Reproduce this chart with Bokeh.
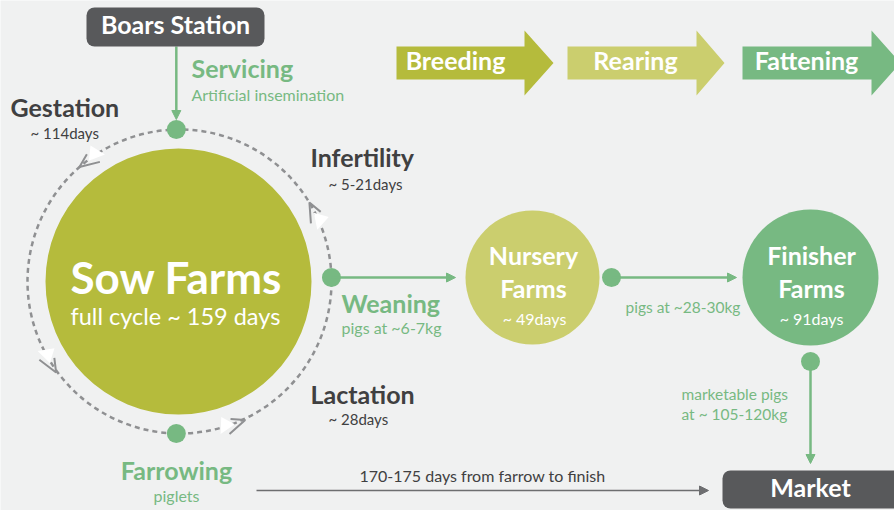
import numpy as np
from bokeh.plotting import figure
from bokeh.models import Range1d, BoxAnnotation, Arrow, NormalHead
from bokeh.core.properties import value
from bokeh.embed import file_html
from bokeh.resources import INLINE

# ---------------- content ----------------
phase_labels = ["Breeding", "Rearing", "Fattening"]
farm_titles = [["Sow Farms"], ["Nursery", "Farms"], ["Finisher", "Farms"]]
farm_durations = ["full cycle ~ 159 days", "~ 49days", "~ 91days"]
cycle_phases = ["Gestation", "Infertility", "Lactation"]
cycle_durations = ["~ 114days", "~ 5-21days", "~ 28days"]
events = ["Servicing", "Weaning", "Farrowing"]
event_notes = ["Artificial insemination", "pigs at ~6-7kg", "piglets"]
transfer_notes = ["pigs at ~28-30kg", "marketable pigs", "at ~ 105-120kg"]
endpoints = ["Boars Station", "Market"]
timeline_note = ["170-175 days from farrow to finish"]

# ---------------- layout (pixel space of the picture) ----------------
BG = "#f0f1f1"
OLIVE = "#b5bb3c"
LIGHT = "#cbce6e"
GREEN = "#77b982"
BOXC = "#58595b"
TDARK = "#404041"
RING = "#8f9092"
LINE = "#6d6e70"
FONT = "Lato"
BASE_K = 0.38  # baseline correction factor of the svg text renderer

phase_colors = [OLIVE, LIGHT, GREEN]
phase_left = [396, 567, 742]
phase_body_end = [524, 696, 871]
phase_tip = [553, 724, 900]
phase_body_top, phase_body_bot = 46, 79
phase_head_top, phase_head_bot = 30, 95
phase_text_x = [455, 635, 806]
phase_text_y = 69

farm_cx = [178, 532, 810]
farm_cy = [281, 277, 277]
farm_r = [133, 67, 68]
farm_colors = [OLIVE, LIGHT, GREEN]

ring_cx, ring_cy, ring_r = 179, 281, 152
event_angles = [91.2, 1.5, 268.8]
chevron_angles = [125.7, 211.0, 290.0, 25.9]
chevron_side = [-1, 1, 1, -1]
# chevron template in (along-tangent, across) units
CHEV_SCALE = 1.2
chev_tip = (12.0, 0.5)
chev_arm_a = (-4.3, 7.0)
chev_arm_b = (0.8, -4.5)
chev_white = [(-11.3, 4.5), (-5.9, -8.7), (2.6, 0.9)]

p = figure(width=894, height=510, output_backend="svg", toolbar_location=None,
           x_range=Range1d(0, 894), y_range=Range1d(510, 0),
           background_fill_color=BG, border_fill_color=BG, min_border=0,
           outline_line_color=None)
p.axis.visible = False
p.grid.visible = False


def label(texts, xs, ys, size, color, bold=False, align="left", level="glyph"):
    ys = [y - BASE_K * size for y in ys]
    p.text(x=xs, y=ys, text=texts, text_font=value(FONT),
           text_font_size=value(f"{size}px"),
           text_font_style="bold" if bold else "normal",
           text_color=color, text_align=align, text_baseline="alphabetic",
           level=level)


# phase arrows
pxs, pys = [], []
for L, B, T in zip(phase_left, phase_body_end, phase_tip):
    pxs.append([L, B, B, T, B, B, L])
    pys.append([phase_body_top, phase_body_top, phase_head_top,
                (phase_head_top + phase_head_bot) / 2, phase_head_bot,
                phase_body_bot, phase_body_bot])
p.patches(pxs, pys, fill_color=phase_colors, line_color=None)
label(phase_labels, phase_text_x, [phase_text_y] * 3, 25, "white", True, "center")

# cycle ring
p.circle(x=[ring_cx], y=[ring_cy], radius=ring_r, fill_color=None,
         line_color=RING, line_width=2.5, line_dash="5 4")

# farms
p.circle(x=farm_cx, y=farm_cy, radius=farm_r, fill_color=farm_colors, line_color=None)

# chevrons on ring
cxs, cys, gxs, gys = [], [], [], []
for a, side in zip(chevron_angles, chevron_side):
    th = np.radians(a)
    P = np.array([ring_cx + ring_r * np.cos(th), ring_cy - ring_r * np.sin(th)])
    t = np.array([-np.sin(th), -np.cos(th)])
    n = side * np.array([np.cos(th), -np.sin(th)])

    def pt(c):
        return P + CHEV_SCALE * (c[0] * t + c[1] * n)

    w = [pt(c) for c in chev_white]
    cxs.append([q[0] for q in w])
    cys.append([q[1] for q in w])
    tip, ea, eb = pt(chev_tip), pt(chev_arm_a), pt(chev_arm_b)
    gxs.append([ea[0], tip[0], eb[0]])
    gys.append([ea[1], tip[1], eb[1]])
p.multi_line(gxs, gys, line_color=RING, line_width=2)
p.patches(cxs, cys, fill_color="white", line_color=None)

# event dots
ev_x = [ring_cx + ring_r * np.cos(np.radians(a)) for a in event_angles]
ev_y = [ring_cy - ring_r * np.sin(np.radians(a)) for a in event_angles]
dot_x = ev_x + [611, 810]
dot_y = ev_y + [277, 361]


def arrow(x0, y0, x1, y1, color, w, size):
    p.add_layout(Arrow(end=NormalHead(size=size, fill_color=color, line_color=color),
                       x_start=x0, y_start=y0, x_end=x1, y_end=y1,
                       line_color=color, line_width=w))


arrow(ev_x[0], 46, ev_x[0], 119, GREEN, 2.5, 9)
arrow(ev_x[1], ev_y[1], 455, ev_y[1], GREEN, 2.5, 9)
arrow(611, 277, 736, 277, GREEN, 2.5, 9)
arrow(810, 361, 810, 463, GREEN, 2.5, 9)
arrow(256, 490, 708, 490, LINE, 1.5, 9)

p.circle(x=dot_x, y=dot_y, radius=9.5, fill_color=GREEN, line_color=None)

# end boxes
p.add_layout(BoxAnnotation(left=86, right=264, top=7, bottom=46, border_radius=8,
                           fill_color=BOXC, fill_alpha=1, line_color=None))
p.add_layout(BoxAnnotation(left=722, right=905, top=470, bottom=508, border_radius=8,
                           fill_color=BOXC, fill_alpha=1, line_color=None))
label(endpoints, [175, 810], [33, 496], 25, "white", True, "center", level="overlay")

# farm texts
label([farm_titles[0][0]], [70], [293], 44, "white", True, "left")
label([farm_durations[0]], [70], [324], 23.5, "white", False, "left")
label([farm_titles[1][0], farm_titles[2][0]], [533, 811], [264, 264], 25, "white", True, "center")
label([farm_titles[1][1], farm_titles[2][1]], [533, 811], [297, 297], 25, "white", True, "center")
label(farm_durations[1:], [534, 811], [324, 324], 16, "white", False, "center")

# cycle phases
label(cycle_phases, [10, 310, 310], [116, 166, 403], 25, TDARK, True, "left")
label(cycle_durations, [30, 328, 328], [138, 189, 424], 15, TDARK, False, "left")

# events
label(events[:2], [191, 341], [77, 312], 25, GREEN, True, "left")
label([events[2]], [176], [479], 25, GREEN, True, "center")
label(event_notes[:2], [191, 341], [100, 333], 16, GREEN, False, "left")
label([event_notes[2]], [176], [501], 16, GREEN, False, "center")

# transfer notes
label(transfer_notes, [625, 681, 681], [312, 399, 419], 15.5, GREEN, False, "left")

# timeline
label(timeline_note, [482], [481], 16, TDARK, False, "center")

open("out.html", "w").write(file_html(p, INLINE))
